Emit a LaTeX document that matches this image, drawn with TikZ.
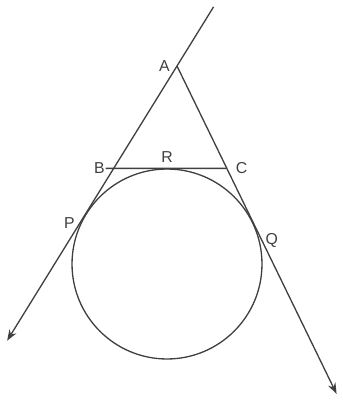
\documentclass[tikz,border=0pt]{standalone}
\usepackage{fontspec}
\setmainfont{Liberation Sans}
\usepackage{tikz}
\usetikzlibrary{arrows.meta,positioning,calc}
\tikzset{
  geoline/.style={line width=0.75pt, draw=black!75},
  tang/.style={geoline, -{Stealth[length=2.2mm,width=1.6mm]}},
  ptlabel/.style={font=\fontsize{9}{10}\selectfont, text=black!75, inner sep=1pt},
}
\begin{document}
\begin{tikzpicture}[x=0.02cm, y=-0.02cm]
    \useasboundingbox (0,0) rectangle (342,405);
    % circle and the point outside it
    \node[circle, geoline, draw, inner sep=0pt, minimum size=3.8cm] (O) at (167,264) {};
    \coordinate (A) at (177,66);
    % tangent points
    \coordinate (P) at (tangent cs:node=O, point={(A)}, solution=1);
    \coordinate (Q) at (tangent cs:node=O, point={(A)}, solution=2);
    \coordinate (R) at (O.north);
    % third tangent through R
    \coordinate (B) at (intersection cs:first line={(A)--(P)}, second line={(R)--($(R)+(10,0)$)});
    \coordinate (C) at (intersection cs:first line={(A)--(Q)}, second line={(R)--($(R)+(10,0)$)});
    \coordinate (top) at ($(P)!1.4!(A)$);
    \coordinate (endP) at ($(A)!1.86!(P)$);
    \coordinate (endQ) at ($(A)!2.1!(Q)$);
    \draw[tang] (top) -- (endP);
    \draw[tang] (A) -- (endQ);
    \draw[geoline] ($(B)+(-8,0)$) -- (C);
    % labels
    \node[ptlabel, left=3pt of A] (lA) {A};
    \node[ptlabel, left=4pt of B] (lB) {B};
    \node[ptlabel, above=2pt of R] (lR) {R};
    \node[ptlabel, right=4pt of C] (lC) {C};
    \node[ptlabel, below left=1pt and 5pt of P] (lP) {P};
    \node[ptlabel, below right=5pt and 6pt of Q] (lQ) {Q};
  \end{tikzpicture}
\end{document}
